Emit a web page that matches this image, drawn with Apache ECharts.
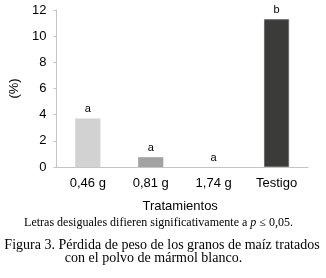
<!DOCTYPE html>
<html>
<head>
<meta charset="utf-8">
<script src="https://cdn.jsdelivr.net/npm/echarts@6/dist/echarts.min.js"></script>
<style>html,body{margin:0;padding:0;background:#fff}#c{width:326px;height:278px}</style>
</head>
<body>
<div id="c"></div>
<script>
const categories = ['0,46 g', '0,81 g', '1,74 g', 'Testigo'];
const values = [3.7, 0.75, 0, 11.3];
const letters = ['a', 'a', 'a', 'b'];
const barColors = ['#d2d2d2', '#a2a2a2', '#c8c8c8', '#3b3b39'];
const yTicks = { min: 0, max: 12, interval: 2 };

const chart = echarts.init(document.getElementById('c'), null, { renderer: 'canvas' });
const sans = 'Liberation Sans, Arial, sans-serif';
const serif = 'Liberation Serif, Times New Roman, serif';
function caption(text, cx, top, size, family) {
  return {
    text: text, left: cx, top: top, textAlign: 'center', padding: 0,
    textStyle: { color: '#000', fontSize: size, fontWeight: 'normal', fontFamily: family, lineHeight: size + 1 }
  };
}
chart.setOption({
  animation: false,
  title: [
    {
      text: '{n|Letras desiguales difieren significativamente a }{i|p}{n| ≤ 0,05.}',
      left: 158.5, top: 216.5, textAlign: 'center', padding: 0,
      textStyle: {
        fontWeight: 'normal',
        rich: {
          n: { fontSize: 12, fontWeight: 'normal', fontFamily: serif, color: '#000', lineHeight: 13 },
          i: { fontSize: 12, fontWeight: 'normal', fontFamily: serif, fontStyle: 'italic', color: '#000', lineHeight: 13 }
        }
      }
    },
    caption('Figura 3. Pérdida de peso de los granos de maíz tratados', 162, 238, 14, serif),
    caption('con el polvo de mármol blanco.', 153.5, 251, 14, serif)
  ],
  grid: { left: 46, right: 18, top: 10, bottom: 111 },
  xAxis: {
    type: 'category',
    data: categories,
    name: 'Tratamientos', nameLocation: 'middle', nameGap: 33,
    nameTextStyle: { color: '#000', fontSize: 13, fontFamily: sans, padding: [0, 0, 0, -4] },
    axisLine: { lineStyle: { color: '#c4c4c4', width: 1 } },
    axisTick: { show: false },
    axisLabel: { color: '#000', fontSize: 13, fontFamily: sans, margin: 10 }
  },
  yAxis: {
    type: 'value',
    min: yTicks.min, max: yTicks.max, interval: yTicks.interval,
    name: '(%)', nameLocation: 'middle', nameGap: 25, nameRotate: 90,
    nameTextStyle: { color: '#000', fontSize: 13, fontFamily: sans },
    axisLine: { show: true, lineStyle: { color: '#c4c4c4', width: 1 } },
    axisTick: { show: true, length: 3, lineStyle: { color: '#c4c4c4' } },
    splitLine: { show: false },
    axisLabel: { color: '#000', fontSize: 13, fontFamily: sans, margin: 10 }
  },
  series: [{
    type: 'bar',
    barWidth: '40%',
    data: values.map((v, i) => ({
      value: v,
      itemStyle: { color: barColors[i], borderColor: i === 3 ? '#6a6a6a' : barColors[i], borderWidth: i === 3 ? 1 : 0 }
    })),
    label: {
      show: true, position: 'top', distance: 4,
      color: '#000', fontSize: 11, fontFamily: sans,
      formatter: p => letters[p.dataIndex]
    }
  }]
});
</script>
</body>
</html>
